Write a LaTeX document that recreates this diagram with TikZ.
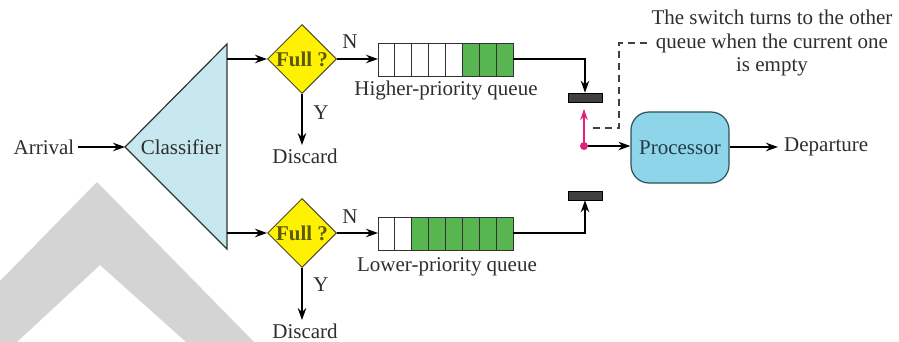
\documentclass[tikz,border=0pt]{standalone}
\usepackage{fontspec}
\setmainfont{Liberation Serif}
\usetikzlibrary{shapes.geometric,arrows.meta}

\definecolor{clsblue}{HTML}{C8E8F0}
\definecolor{procblue}{HTML}{8FD5EA}
\definecolor{qgreen}{HTML}{58B651}
\definecolor{dyellow}{HTML}{FFF200}
\definecolor{swpink}{HTML}{E0207A}
\definecolor{wmgray}{HTML}{D4D4D4}
\definecolor{txt}{HTML}{2E2E2E}
\definecolor{fulltxt}{HTML}{5A5A0A}
\definecolor{procedge}{HTML}{2F4F5A}
\definecolor{proctxt}{HTML}{233A48}

\begin{document}
\begin{tikzpicture}[x=1pt,y=-1pt,
  font=\rmfamily\fontsize{21}{23.5}\selectfont,
  every node/.style={text=txt},
  arr/.style={draw=black, line width=1.5pt, -{Stealth[length=12pt,width=8.5pt]}},
  decision/.style={diamond, aspect=1, draw=black!60!olive, line width=1pt,
    fill=dyellow, minimum size=69pt, inner sep=0pt, text=fulltxt,
    font=\rmfamily\fontsize{21}{23.5}\selectfont\bfseries},
  cell/.style={draw=black!80, line width=0.9pt, minimum width=16.9pt,
    minimum height=33pt, inner sep=0pt, outer sep=0pt},
  slotfull/.style={cell, fill=qgreen},
  slotfree/.style={cell, fill=white},
  swbar/.style={fill=black!75, draw=black, line width=0.6pt,
    minimum width=34pt, minimum height=9pt, inner sep=0pt},
  lbl/.style={inner sep=1pt},
  note/.style={dashed, dash pattern=on 7pt off 5pt, draw=black!75, line width=1.2pt},
]
\useasboundingbox (0,0) rectangle (899,342);

% light grey chevron in the lower left corner
\fill[wmgray] (0,281) -- (97,182) -- (254,342) -- (186,342) -- (100,265)
  -- (17,342) -- (0,342) -- cycle;

% arrival and classifier
\node (arrival) at (44,147) {Arrival};
\coordinate (ctip) at (125,147);
\coordinate (ctop) at (227,44);
\coordinate (cbot) at (227,249);
\draw[fill=clsblue, draw=black!80, line width=1.2pt, line join=miter]
  (ctip) -- (ctop) -- (cbot) -- cycle;
\node (cls) at (181,147) {Classifier};
\draw[arr] (arrival.east) -- (ctip);

% decisions
\node[decision] (dh) at (302,59) {Full ?};
\node[decision] (dl) at (302,233) {Full ?};
\draw[arr] (ctop |- dh.west) -- (dh.west);
\draw[arr] (ctop |- dl.west) -- (dl.west);

% queues
\foreach \i in {1,...,8} {
  \pgfmathsetmacro{\cx}{378+16.9*(\i-0.5)}
  \ifnum\i>5
    \node[slotfull] (qh\i) at (\cx,59.5) {};
  \else
    \node[slotfree] (qh\i) at (\cx,59.5) {};
  \fi
  \ifnum\i>2
    \node[slotfull] (ql\i) at (\cx,234) {};
  \else
    \node[slotfree] (ql\i) at (\cx,234) {};
  \fi
}
\node (hq) at (446,90) {Higher-priority queue};
\node (lq) at (447,267) {Lower-priority queue};

\draw[arr] (dh.east) -- (qh1.west |- dh.east);
\draw[arr] (dl.east) -- (ql1.west |- dl.east);
\node[lbl] (nh) at (350,42) {N};
\node[lbl] (nl) at (350,217) {N};

% discard branches
\node (disch) at (305,156) {Discard};
\node (discl) at (305,331) {Discard};
\draw[arr] (dh.south) -- (disch.north -| dh.south);
\draw[arr] (dl.south) -- (discl.north -| dl.south);
\node[lbl] (yh) at (321,113) {Y};
\node[lbl] (yl) at (321,285) {Y};

% switch contacts
\node[swbar] (barh) at (585,97.5) {};
\node[swbar] (barl) at (585,195.5) {};
\draw[arr] (qh8.east |- dh.east) -| (barh.north);
\draw[arr] (ql8.east |- dl.east) -| (barl.south);

% switch arm
\node[circle, fill=swpink, inner sep=0pt, minimum size=8pt] (pivot) at (584,146) {};
\coordinate (swtip) at (584,109);
\draw[draw=swpink, line width=1.5pt, -{Stealth[length=11pt,width=7.5pt]}] (pivot) -- (swtip);

% processor and departure
\node[draw=procedge, line width=1.2pt, rounded corners=18pt, fill=procblue,
  minimum width=98pt, minimum height=71pt, text=proctxt,
  font=\rmfamily\fontsize{21}{23.5}\selectfont] (proc) at (680,147.5) {Processor};
\draw[arr] (pivot) -- (pivot -| proc.west);
\node[anchor=west, inner sep=6pt] (dep) at (778,147) {Departure};
\draw[arr] (proc.east |- dep.west) -- (dep.west);

% annotation about the switch
\node[align=center, inner sep=2pt] (ann) at (772,43)
  {The switch turns to the other\\queue when the current one\\is empty};
\coordinate (dstart) at (593,128);
\draw[note] (dstart) -- (619,128) |- (ann.west);
\end{tikzpicture}
\end{document}
